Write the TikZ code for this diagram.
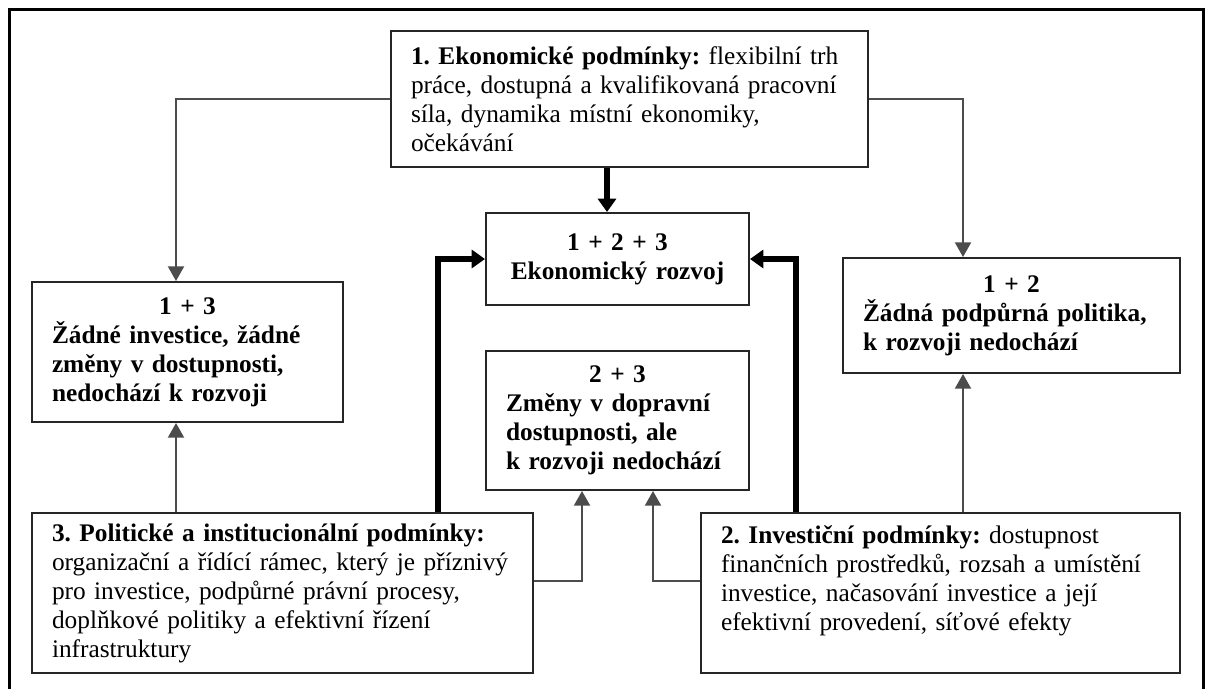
\documentclass[tikz,border=0pt]{standalone}
\usepackage{fontspec}
\setmainfont{Liberation Serif}
\frenchspacing
\usetikzlibrary{arrows.meta}
\begin{document}
\begin{tikzpicture}[x=0.75pt,y=-0.75pt,
  box/.style={draw=black!85, line width=1.5pt, rectangle, inner xsep=15pt, inner ysep=0pt,
    font=\fontsize{19}{21.75}\selectfont\frenchspacing, align=left},
  bbox/.style={box, font=\fontsize{19}{21.75}\selectfont\frenchspacing\bfseries},
  thinarrow/.style={draw=black!70, line width=1.5pt, -{Triangle[width=12pt,length=11pt]}},
  thickarrow/.style={draw=black, line width=4.5pt, -{Triangle[width=13.5pt,length=10pt]}},
  frameline/.style={draw=black, line width=2.25pt},
]
\useasboundingbox (0,0) rectangle (1206,689);
\fill[white] (0,0) rectangle (1206,689);

% outer frame (open at bottom)
\draw[frameline] (9,689) -- (9,9) -- (1203,9) -- (1203,689);

% boxes
\node[box, minimum width=357.75pt, minimum height=102pt, text width=327.75pt] (top) at (629.5,99)
 {\textbf{1. Ekonomické podmínky:} flexibilní trh\\práce, dostupná a kvalifikovaná pracovní\\síla, dynamika místní ekonomiky,\\očekávání};

\node[bbox, align=center, minimum width=197.25pt, minimum height=69pt, text width=167.25pt] (center) at (617.5,259)
 {1 + 2 + 3\\Ekonomický rozvoj};

\node[bbox, minimum width=233.25pt, minimum height=105pt, text width=203.25pt] (left) at (187.5,352)
 {\makebox[\linewidth]{1 + 3}\\Žádné investice, žádné\\změny v dostupnosti,\\nedochází k rozvoji};

\node[bbox, minimum width=197.25pt, minimum height=104.25pt, text width=167.25pt] (middle) at (617.5,420.5)
 {\makebox[\linewidth]{2 + 3}\\Změny v dopravní\\dostupnosti, ale\\k rozvoji nedochází};

\node[bbox, minimum width=252.75pt, minimum height=86.25pt, text width=222.75pt] (right) at (1011.5,315.5)
 {\makebox[\linewidth]{1 + 2}\\Žádná podpůrná politika,\\k rozvoji nedochází};

\node[box, minimum width=375.75pt, minimum height=120pt, text width=345.75pt] (pol) at (282.5,593)
 {\textbf{3. Politické a institucionální podmínky:}\\organizační a řídící rámec, který je příznivý\\pro investice, podpůrné právní procesy,\\doplňkové politiky a efektivní řízení\\infrastruktury};

\node[box, minimum width=359.25pt, minimum height=120pt, text width=329.25pt] (inv) at (940.5,593)
 {\textbf{2. Investiční podmínky:} dostupnost\\finančních prostředků, rozsah a umístění\\investice, načasování investice a její\\efektivní provedení, síťové efekty\\\mbox{}};

% helper coordinates (columns and rows)
\coordinate (cL) at (176,0);
\coordinate (cR) at (963,0);
\coordinate (cT) at (607,0);
\coordinate (cTL) at (438,0);
\coordinate (cTR) at (796,0);
\coordinate (cML) at (582,0);
\coordinate (cMR) at (653,0);
\coordinate (rM) at (0,581);

% connectors
\draw[thinarrow] (top.west) -| (left.north -| cL);
\draw[thinarrow] (top.east) -| (right.north -| cR);
\draw[thickarrow] (top.south -| cT) -- (center.north -| cT);
\draw[thickarrow] (pol.north -| cTL) |- (center.west);
\draw[thickarrow] (inv.north -| cTR) |- (center.east);
\draw[thinarrow] (pol.north -| cL) -- (left.south -| cL);
\draw[thinarrow] (inv.north -| cR) -- (right.south -| cR);
\draw[thinarrow] (pol.east |- rM) -| (middle.south -| cML);
\draw[thinarrow] (inv.west |- rM) -| (middle.south -| cMR);
\end{tikzpicture}
\end{document}
